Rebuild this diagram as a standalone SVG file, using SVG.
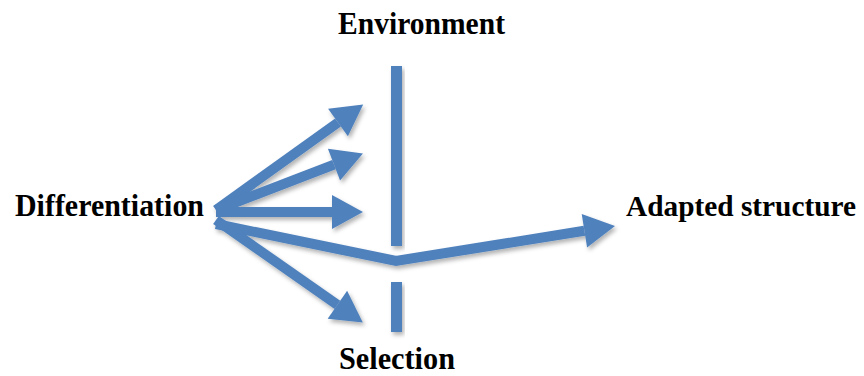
<svg xmlns="http://www.w3.org/2000/svg" width="864" height="376" viewBox="0 0 864 376">
<style>
.lbl{font-family:"Liberation Serif","DejaVu Serif",serif;font-weight:bold;font-size:31px;fill:#000}
.ln{stroke:#4f81bd;stroke-width:10;fill:none;stroke-linejoin:miter}
.bar{fill:#4f81bd}
</style>
<defs>
<filter id="sh" x="-20%" y="-20%" width="140%" height="150%">
<feDropShadow dx="2" dy="3" stdDeviation="2" flood-color="#000" flood-opacity="0.3"/>
</filter>
<marker id="ah" markerUnits="userSpaceOnUse" markerWidth="32" markerHeight="34" refX="0" refY="17" orient="auto" overflow="visible">
<path d="M0,0 L31,17 L0,34 z" fill="#4f81bd"/>
</marker>
</defs>
<g id="environment"><text class="lbl" x="338" y="34" textLength="167" lengthAdjust="spacingAndGlyphs">Environment</text></g>
<g id="differentiation"><text class="lbl" x="15" y="216" textLength="189" lengthAdjust="spacingAndGlyphs">Differentiation</text></g>
<g id="adapted"><text class="lbl" x="626" y="216" style="font-size:29px" textLength="230" lengthAdjust="spacingAndGlyphs">Adapted structure</text></g>
<g id="selection"><text class="lbl" x="339" y="369" textLength="116" lengthAdjust="spacingAndGlyphs">Selection</text></g>
<g id="barriers" filter="url(#sh)">
<rect class="bar" x="391" y="66" width="11" height="180"/>
<rect class="bar" x="391" y="282" width="11" height="50"/>
</g>
<g id="connectors" filter="url(#sh)">
<line class="ln" x1="216" y1="210" x2="338" y2="122.5" marker-end="url(#ah)"/>
<line class="ln" x1="216" y1="210" x2="334" y2="164.7" marker-end="url(#ah)"/>
<line class="ln" x1="216" y1="212" x2="332" y2="212" marker-end="url(#ah)"/>
<line class="ln" x1="216" y1="220" x2="337.4" y2="304.8" marker-end="url(#ah)"/>
<polyline class="ln" points="216,224 396,261 584.4,230.8" marker-end="url(#ah)"/>
</g>
</svg>
